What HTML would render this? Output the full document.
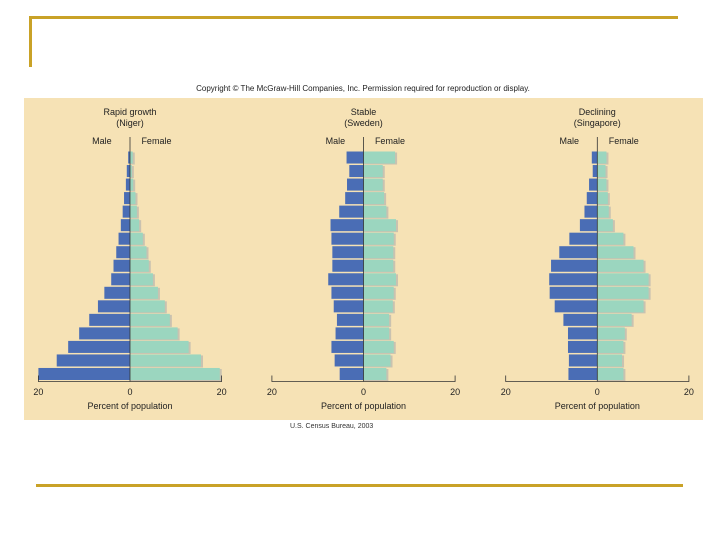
<!DOCTYPE html>
<html><head><meta charset="utf-8"><style>
body{margin:0;background:#fff;width:720px;height:540px;overflow:hidden;font-family:"Liberation Sans",sans-serif}
svg{position:absolute;left:0;top:0}
</style></head><body>
<svg width="720" height="540" id="s">
<rect x="29" y="16" width="649" height="3" fill="#c9a227"/>
<rect x="29" y="16" width="3" height="51" fill="#c9a227"/>
<rect x="36" y="484" width="647" height="3" fill="#c9a227"/>
<text x="363" y="91" font-size="8" text-anchor="middle" fill="#222">Copyright © The McGraw-Hill Companies, Inc. Permission required for reproduction or display.</text>
<rect x="24" y="98" width="679" height="322" fill="#f6e2b5"/>
<text x="290" y="428" font-size="7" fill="#333">U.S. Census Bureau, 2003</text>
<g id="charts"></g>
</svg>
<script>
const nigerMale=[0.4,0.7,0.9,1.3,1.6,2,2.5,3,3.6,4.1,5.6,7,8.9,11.1,13.5,16,20];
const nigerFemale=[0.6,0.4,0.7,1.2,1.5,2,2.8,3.6,4.1,5,6.1,7.6,8.7,10.4,12.8,15.5,19.6];
const swedenMale=[3.7,3.1,3.6,4,5.3,7.2,7,6.8,6.8,7.7,7,6.5,5.8,6.1,7,6.3,5.2];
const swedenFemale=[6.9,4.2,4.2,4.5,5,7.1,6.6,6.5,6.5,7.1,6.6,6.4,5.6,5.6,6.6,5.9,5];
const singMale=[1.2,1,1.8,2.3,2.8,3.8,6.1,8.3,10.1,10.5,10.4,9.3,7.4,6.4,6.4,6.2,6.3];
const singFemale=[2,1.8,2,2.3,2.5,3.4,5.7,7.9,10.1,11.2,11.2,10.1,7.5,6,5.7,5.4,5.7];
const titles=[["Rapid growth","(Niger)"],["Stable","(Sweden)"],["Declining","(Singapore)"]];
const tickLabels=["20","0","20"];
const ns="http://www.w3.org/2000/svg";
const G=document.getElementById('charts');
function mk(t,a,p){const e=document.createElementNS(ns,t);for(const k in a)e.setAttribute(k,a[k]);(p||G).appendChild(e);return e;}
const panels=[{z:130,m:nigerMale,f:nigerFemale,n:"niger"},{z:363.5,m:swedenMale,f:swedenFemale,n:"sweden"},{z:597.3,m:singMale,f:singFemale,n:"singapore"}];
const topY=151.5,bot=381.5,sc=4.58;
panels.forEach((p,pi)=>{
  const g=mk('g',{});
  
  
  const x=v=>p.z+v*sc;
  const n=p.m.length,rh=(bot-topY)/n;
  for(let i=0;i<n;i++){
    const y=topY+i*rh;
    let sh=mk('rect',{x:x(0),y:y+1,width:p.f[i]*sc+2,height:rh-1.5,fill:"#c9c2b0"},g);
    
    
    let r=mk('rect',{x:x(-p.m[i]),y:y,width:p.m[i]*sc,height:rh-1.5,fill:"#4a6db5"},g);
    
    
    let f=mk('rect',{x:x(0),y:y,width:p.f[i]*sc,height:rh-1.5,fill:"#9bd6bf"},g);
    
    
  }
  let c=mk('line',{x1:x(0),x2:x(0),y1:137,y2:bot,stroke:"#333","stroke-width":0.8},g);
  
  
  let ax=mk('path',{d:`M${x(-20)} ${bot-6}V${bot}H${x(20)}V${bot-6}`,stroke:"#333",fill:"none","stroke-width":0.8},g);
  
  
  [-20,0,20].forEach((v,j)=>{
    let t=mk('text',{x:x(v),y:395,"font-size":9,"text-anchor":"middle",fill:"#222"},g);
    t.textContent=tickLabels[j];
    
    
  });
  let xt=mk('text',{x:x(0),y:409,"font-size":9,"text-anchor":"middle",fill:"#222"},g);
  xt.textContent="Percent of population";
  
  
  titles[pi].forEach((s,k)=>{
    let t=mk('text',{x:x(0),y:115+k*11,"font-size":9,"text-anchor":"middle",fill:"#222"},g);
    t.textContent=s;
    
    
  });
  let ml=mk('text',{x:x(-4),y:144,"font-size":9,"text-anchor":"end",fill:"#222"},g);
  ml.textContent="Male";
  
  
  let fl=mk('text',{x:x(2.5),y:144,"font-size":9,fill:"#222"},g);
  fl.textContent="Female";
  
  
});
</script>
</body></html>
